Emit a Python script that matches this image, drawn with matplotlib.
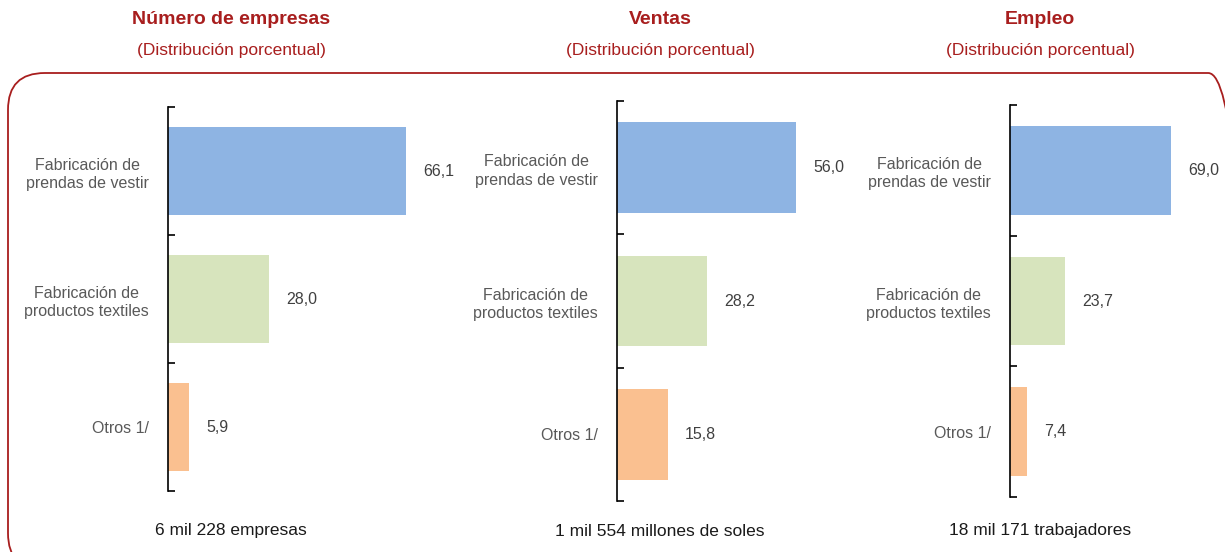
import matplotlib.pyplot as plt
from matplotlib.patches import FancyBboxPatch

W, H = 1225, 552

# data
categorias = ['Fabricación de\nprendas de vestir', 'Fabricación de\nproductos textiles', 'Otros 1/']
empresas = [66.1, 28.0, 5.9]
ventas = [56.0, 28.2, 15.8]
empleo = [69.0, 23.7, 7.4]
titulos = ['Número de empresas', 'Ventas', 'Empleo']
totales = ['6 mil 228 empresas', '1 mil 554 millones de soles', '18 mil 171 trabajadores']
colores = ['#8EB4E3', '#D7E4BD', '#FAC090']

plt.rcParams['font.family'] = ['Liberation Sans', 'DejaVu Sans']
ROJO = '#A81E1E'

fig = plt.figure(figsize=(W / 100, H / 100), dpi=100)

# rounded frame (pixel coords -> figure fraction)
frame = FancyBboxPatch((8 / W, 1 - 570 / H), (1245 - 8) / W, (570 - 73) / H,
                       boxstyle='round,pad=0,rounding_size=0.03',
                       transform=fig.transFigure, fill=False, edgecolor=ROJO,
                       linewidth=1.3, mutation_aspect=W / H, clip_on=False)
fig.patches.append(frame)

# left, top, bottom, width (px), xmax
paneles = [
    (168, 107, 491, 260, 72.2),
    (617, 101, 501, 250, 78.1),
    (1010, 105, 497, 200, 85.8),
]
centros = [231, 660, 1040]
series = [empresas, ventas, empleo]

for (left, top, bottom, width, xmax), vals, tit, tot, cx in zip(paneles, series, titulos, totales, centros):
    ax = fig.add_axes([left / W, 1 - bottom / H, width / W, (bottom - top) / H])
    y = range(len(categorias))
    ax.barh(y, vals, height=0.68, color=colores)
    ax.set_ylim(2.5, -0.5)
    ax.set_xlim(0, xmax)
    for yi, v in zip(y, vals):
        ax.text(v + 17 * xmax / width, yi, f'{v:.1f}'.replace('.', ','),
                va='center', ha='left', fontsize=11.5, color='#404040')
    for s in ['top', 'right', 'bottom']:
        ax.spines[s].set_visible(False)
    ax.spines['left'].set_linewidth(1.2)
    ax.spines['left'].set_color('black')
    ax.set_xticks([])
    ax.set_yticks(list(y))
    ax.set_yticklabels(categorias, fontsize=11.5, color='#595959')
    for lab in ax.get_yticklabels():
        lab.set_multialignment('center')
        lab.set_linespacing(1.3)
    ax.tick_params(axis='y', which='major', length=0, pad=14)
    ax.set_yticks([-0.5, 0.5, 1.5, 2.5], minor=True)
    ax.tick_params(axis='y', which='minor', direction='in', length=5, width=1.2)

    fig.text(cx / W, 1 - 20 / H, tit, ha='center', va='center',
             fontsize=14, fontweight='bold', color=ROJO)
    fig.text(cx / W, 1 - 50 / H, '(Distribución porcentual)', ha='center', va='center',
             fontsize=12.5, color=ROJO)
    fig.text(cx / W, 1 - 531 / H, tot, ha='center', va='center',
             fontsize=12.5, color='#1a1a1a')

fig.savefig('out.png', dpi=100)
